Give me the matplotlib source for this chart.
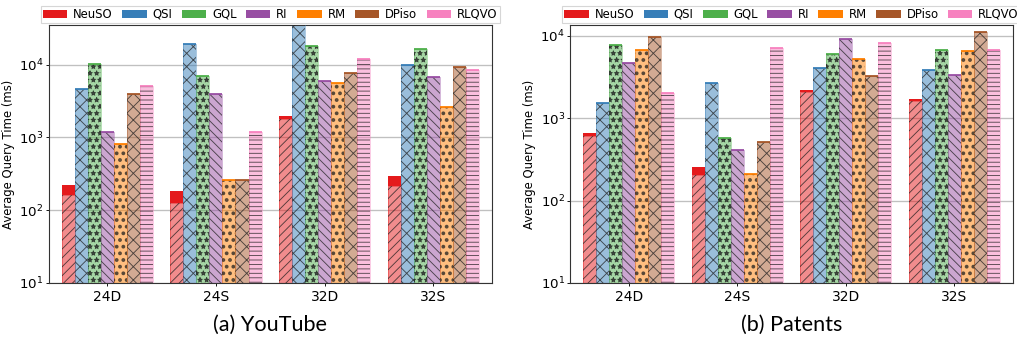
import numpy as np
import matplotlib.pyplot as plt
from matplotlib.patches import Patch

# ---------------------------------------------------------------------------
# data (ms)
# ---------------------------------------------------------------------------
groups = ['24D', '24S', '32D', '32S']
methods = ['NeuSO', 'QSI', 'GQL', 'RI', 'RM', 'DPiso', 'RLQVO']
colors = ['#e41a1c', '#377eb8', '#4daf4a', '#984ea3', '#ff7f00', '#a65628', '#f781bf']
hatches = ['///', 'xx', '**', '\\\\\\', '..', 'xx', '---']
hatch_lw = [0.8, 0.8, 0.8, 0.8, 2.2, 0.8, 0.8]

# NeuSO: total time and the lighter (execution) part below the solid cap
youtube_neuso_total = [224, 183, 1940, 297]
youtube_neuso_exec = [163, 124, 1790, 212]
youtube_qsi = [4560, 19400, 38000, 10000]
youtube_gql = [10300, 7050, 18100, 16600]
youtube_ri = [1170, 3980, 6000, 6850]
youtube_rm = [810, 260, 5520, 2650]
youtube_dpiso = [3890, 258, 7600, 9400]
youtube_rlqvo = [5150, 1170, 12000, 8300]

patents_neuso_total = [664, 258, 2200, 1700]
patents_neuso_exec = [600, 203, 2080, 1610]
patents_qsi = [1520, 2680, 4040, 3820]
patents_gql = [7750, 577, 6010, 6740]
patents_ri = [4640, 409, 9140, 3320]
patents_rm = [6740, 212, 5200, 6480]
patents_dpiso = [9660, 512, 3230, 11000]
patents_rlqvo = [2010, 7060, 8170, 6650]

DPI = 80
fig = plt.figure(figsize=(1017 / DPI, 340 / DPI), dpi=DPI)


def plot_panel(ax, neuso_total, neuso_exec, others, ymax, caption, label_x):
    x = np.arange(len(groups))
    w = 0.12
    series = [neuso_exec] + others
    tops = [neuso_total] + others
    for i, (vals, top) in enumerate(zip(series, tops)):
        pos = x + (i - 3) * w
        c = colors[i]
        # light coloured body
        ax.bar(pos, vals, w, bottom=0.001, color=c, alpha=0.5, linewidth=0, zorder=2)
        ax.bar(pos, vals, w, bottom=0.001, facecolor='none', edgecolor=c,
               linewidth=0.6, alpha=0.6, zorder=3)
        # hatch overlay
        plt.rcParams['hatch.linewidth'] = hatch_lw[i]
        hb = ax.bar(pos, vals, w, bottom=0.001, facecolor='none',
                    edgecolor=(0.12, 0.12, 0.12, 0.75), linewidth=0,
                    hatch=hatches[i], zorder=3)
        for p in hb:
            if hasattr(p, 'set_hatch_linewidth'):
                p.set_hatch_linewidth(hatch_lw[i])
        if i == 0:
            # solid cap for NeuSO
            ax.bar(pos, np.array(top) - np.array(vals), w, bottom=vals,
                   color=c, linewidth=0, zorder=4)
        else:
            ax.hlines(top, pos - w / 2, pos + w / 2, colors=c, linewidth=1.6, zorder=4)
    plt.rcParams['hatch.linewidth'] = 0.8

    ax.set_yscale('log')
    ax.set_ylim(10, ymax)
    ax.set_xlim(-0.54, 3.54)
    ax.set_xticks(x)
    ax.set_xticklabels(groups, fontsize=12.5)
    ax.tick_params(axis='y', labelsize=12, which='major', length=3, pad=1.5)
    ax.tick_params(axis='y', which='minor', length=0)
    ax.tick_params(axis='x', length=3)
    ax.set_ylabel('Average Query Time (ms)', fontsize=10.5)
    ax.yaxis.set_label_coords(label_x, 0.5)
    ax.yaxis.grid(True, which='major', color='#c0c0c0', linewidth=1.2)
    ax.set_axisbelow(True)
    for s in ax.spines.values():
        s.set_color('#333333')
        s.set_linewidth(1.0)

    handles = [Patch(facecolor=c, edgecolor='none') for c in colors]
    ax.legend(handles, methods, loc='lower center', bbox_to_anchor=(0.5, 1.0),
              ncol=7, fontsize=10.5, frameon=True, handlelength=2.1, handleheight=0.75,
              columnspacing=0.8, handletextpad=0.5, borderpad=0.2,
              borderaxespad=0.15, edgecolor='#cccccc', fancybox=False)
    ax.text(0.5, -0.163, caption, transform=ax.transAxes, ha='center', va='center',
            fontsize=19.5, family='Lato')


ax1 = fig.add_axes([48.5 / 1017, 1 - 283 / 340, 443.5 / 1017, 258 / 340])
plot_panel(ax1, youtube_neuso_total, youtube_neuso_exec,
           [youtube_qsi, youtube_gql, youtube_ri, youtube_rm, youtube_dpiso, youtube_rlqvo],
           35000, '(a) YouTube', -0.075)

ax2 = fig.add_axes([570 / 1017, 1 - 283 / 340, 443 / 1017, 258 / 340])
plot_panel(ax2, patents_neuso_total, patents_neuso_exec,
           [patents_qsi, patents_gql, patents_ri, patents_rm, patents_dpiso, patents_rlqvo],
           13500, '(b) Patents', -0.076)

fig.savefig('out.png', dpi=DPI)
